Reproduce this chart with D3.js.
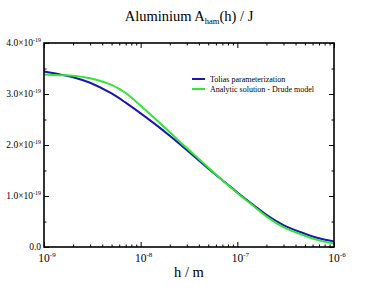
<!DOCTYPE html>
<html>
<head>
<meta charset="utf-8">
<script src="https://cdn.jsdelivr.net/npm/d3@7"></script>
<style>
body { margin: 0; background: #fff; }
svg { display: block; font-family: "Liberation Serif", "DejaVu Serif", serif; }
</style>
</head>
<body>
<svg id="chart" width="376" height="291"></svg>
<script>
// distance h in metres
var hValues = [1e-9, 1.5e-9, 2e-9, 3e-9, 5e-9, 7e-9, 1e-8, 1.5e-8, 2e-8, 3e-8, 5e-8, 7e-8, 1e-7, 1.5e-7, 2e-7, 3e-7, 5e-7, 7e-7, 1e-6];
// Hamaker coefficient, units of 1e-19 J
var tolias = [3.44, 3.38, 3.33, 3.22, 3.01, 2.83, 2.62, 2.37, 2.18, 1.90, 1.54, 1.31, 1.07, 0.81, 0.63, 0.43, 0.26, 0.17, 0.11];
var drude  = [3.38, 3.37, 3.36, 3.31, 3.18, 3.02, 2.77, 2.47, 2.25, 1.94, 1.56, 1.31, 1.06, 0.79, 0.60, 0.39, 0.22, 0.13, 0.07];
var seriesNames = ["Tolias parameterization", "Analytic solution - Drude model"];
var seriesColors = ["#1818b0", "#33e633"];
var yTicks = [0, 1, 2, 3, 4];
var xTicks = [1e-9, 1e-8, 1e-7, 1e-6];

var svg = d3.select("#chart");
var pLeft = 44, pRight = 334, pTop = 43, pBottom = 247;

var x = d3.scaleLog().domain([1e-9, 1e-6]).range([pLeft, pRight]);
var y = d3.scaleLinear().domain([0, 4]).range([pBottom, pTop]);

// minor ticks
var xMinor = [];
for (var e = -9; e < -6; e++) {
    for (var k = 2; k <= 9; k++) xMinor.push(k * Math.pow(10, e));
}
var yMinor = [0.5, 1.5, 2.5, 3.5];

// ticks point inward on all four sides
function ticks(axisFn, scale, vals, size, tx) {
    var g = svg.append("g").attr("transform", tx)
        .call(axisFn(scale).tickValues(vals).tickSize(size).tickFormat(""));
    g.select(".domain").remove();
    g.selectAll("line").attr("stroke", "#000").attr("stroke-width", 1);
}
ticks(d3.axisBottom, x, xTicks, -5, "translate(0," + pBottom + ")");
ticks(d3.axisBottom, x, xMinor, -2.5, "translate(0," + pBottom + ")");
ticks(d3.axisTop, x, xTicks, -5, "translate(0," + pTop + ")");
ticks(d3.axisTop, x, xMinor, -2.5, "translate(0," + pTop + ")");
ticks(d3.axisLeft, y, yTicks, -5, "translate(" + pLeft + ",0)");
ticks(d3.axisLeft, y, yMinor, -2.5, "translate(" + pLeft + ",0)");
ticks(d3.axisRight, y, yTicks, -5, "translate(" + pRight + ",0)");
ticks(d3.axisRight, y, yMinor, -2.5, "translate(" + pRight + ",0)");

// curves
var line = d3.line()
    .x(function(d) { return x(d[0]); })
    .y(function(d) { return y(d[1]); })
    .curve(d3.curveCatmullRom.alpha(0.5));

[tolias, drude].forEach(function(s, i) {
    svg.append("path")
        .datum(hValues.map(function(h, j) { return [h, s[j]]; }))
        .attr("d", line)
        .attr("fill", "none")
        .attr("stroke", seriesColors[i])
        .attr("stroke-width", 2);
});

svg.append("rect")
    .attr("x", pLeft).attr("y", pTop)
    .attr("width", pRight - pLeft).attr("height", pBottom - pTop)
    .attr("fill", "none").attr("stroke", "#000").attr("stroke-width", 1.6);

// y tick labels
yTicks.forEach(function(v) {
    var t = svg.append("text")
        .attr("x", pLeft - 3).attr("y", y(v) + 3)
        .attr("text-anchor", "end")
        .attr("font-size", 9.5);
    if (v === 0) {
        t.text("0.0");
    } else {
        t.append("tspan").text(v.toFixed(1) + "\u00d710");
        t.append("tspan").attr("font-size", 6).attr("dy", -4).text("-19");
    }
});

// x tick labels
xTicks.forEach(function(v) {
    var t = svg.append("text")
        .attr("x", x(v) + 3).attr("y", 262)
        .attr("text-anchor", "middle")
        .attr("font-size", 11.5);
    t.append("tspan").text("10");
    t.append("tspan").attr("font-size", 7).attr("dy", -5).text(Math.round(Math.log10(v)));
});

// title
var title = svg.append("text")
    .attr("x", 189).attr("y", 21)
    .attr("text-anchor", "middle")
    .attr("font-size", 14.5);
title.append("tspan").text("Aluminium A");
title.append("tspan").attr("font-size", 8.5).attr("dy", 3).text("ham");
title.append("tspan").attr("dy", -3).text("(h) / J");

svg.append("text")
    .attr("x", 189).attr("y", 277)
    .attr("text-anchor", "middle")
    .attr("font-size", 14.5)
    .text("h / m");

// legend
seriesNames.forEach(function(n, i) {
    var ly = 79 + i * 10;
    svg.append("line")
        .attr("x1", 192).attr("x2", 205)
        .attr("y1", ly).attr("y2", ly)
        .attr("stroke", seriesColors[i]).attr("stroke-width", 2);
    svg.append("text")
        .attr("x", 210).attr("y", ly + 2.5)
        .attr("font-size", 8)
        .text(n);
});
</script>
</body>
</html>
